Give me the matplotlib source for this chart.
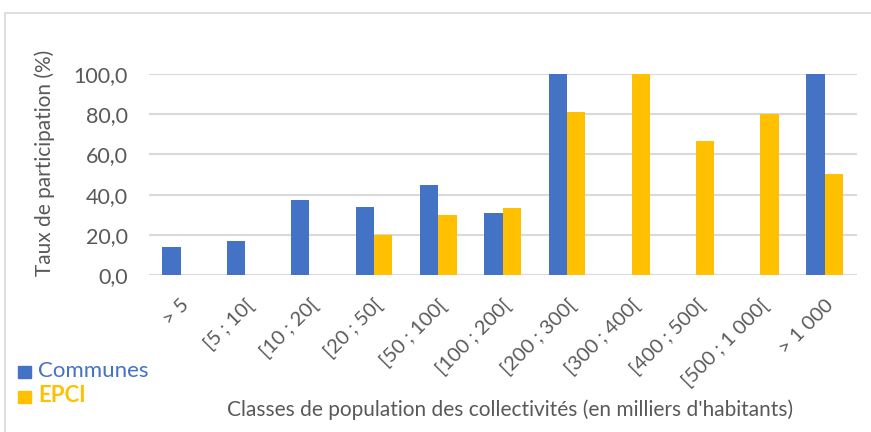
import matplotlib
matplotlib.use("Agg")
import matplotlib.pyplot as plt
import numpy as np
from matplotlib.patches import Rectangle

categories = ["> 5", "[5 ; 10[", "[10 ; 20[", "[20 ; 50[", "[50 ; 100[", "[100 ; 200[",
              "[200 ; 300[", "[300 ; 400[", "[400 ; 500[", "[500 ; 1 000[", "> 1 000"]
communes = [14.1, 17.1, 37.3, 33.8, 45.0, 30.7, 100.0, 0.0, 0.0, 0.0, 100.0]
epci = [0.0, 0.0, 0.0, 20.0, 30.0, 33.3, 81.0, 100.0, 66.7, 80.0, 50.0]
yticks = [0, 20, 40, 60, 80, 100]

BLUE = "#4472C4"
ORANGE = "#FFC000"
GRAY = "#595959"
GRID = "#D9D9D9"

plt.rcParams['font.family'] = ['Lato', 'DejaVu Sans']

fig = plt.figure(figsize=(8.71, 4.32), dpi=100)
# outer chart frame
fig.patches.append(Rectangle((5/871, -0.1), 1.2, 1 - 13/432 + 0.1, transform=fig.transFigure,
                             fill=False, edgecolor="#D9D9D9", linewidth=1.2))

ax = fig.add_axes([148.5/871, 1 - 275.3/432, (856.9 - 148.5)/871, (275.3 - 73.7)/432])
x = np.arange(len(categories))
w = 0.285
ax.bar(x - w/2, communes, width=w, color=BLUE, zorder=3)
ax.bar(x + w/2, epci, width=w, color=ORANGE, zorder=3)

ax.set_xlim(-0.5, len(categories) - 0.5)
ax.set_ylim(0, 100)
ax.set_yticks(yticks)
ax.set_yticklabels([f"{v:.1f}".replace(".", ",") for v in yticks], fontsize=15.5, color=GRAY)
ax.yaxis.grid(True, color=GRID, linewidth=1.5, zorder=0)
ax.set_axisbelow(True)
for s in ax.spines.values():
    s.set_visible(False)
ax.tick_params(axis='both', length=0)
ax.tick_params(axis='y', pad=15)
ax.set_xticks(x)
ax.set_xticklabels(categories, rotation=45, ha='right', va='top', rotation_mode='anchor',
                   fontsize=14.5, color=GRAY)
ax.tick_params(axis='x', pad=15)

fig.text(45/871, 1 - 163/432, "Taux de participation (%)", rotation=90,
         ha='center', va='center', fontsize=15, color=GRAY)

fig.text(510/871, 1 - 410/432, "Classes de population des collectivités (en milliers d'habitants)",
         ha='center', va='center', fontsize=15, color=GRAY)

# legend
fig.patches.append(Rectangle((18/871, 1 - 378/432), 13/871, 12/432, transform=fig.transFigure,
                             color=BLUE))
fig.text(38/871, 1 - 371/432, "Communes", ha='left', va='center', fontsize=16, color=BLUE)
fig.patches.append(Rectangle((18/871, 1 - 403/432), 13/871, 12/432, transform=fig.transFigure,
                             color=ORANGE))
fig.text(38/871, 1 - 396/432, "EPCI", ha='left', va='center', fontsize=16, color=ORANGE,
         fontweight='bold')

fig.savefig("out.png", dpi=100)
